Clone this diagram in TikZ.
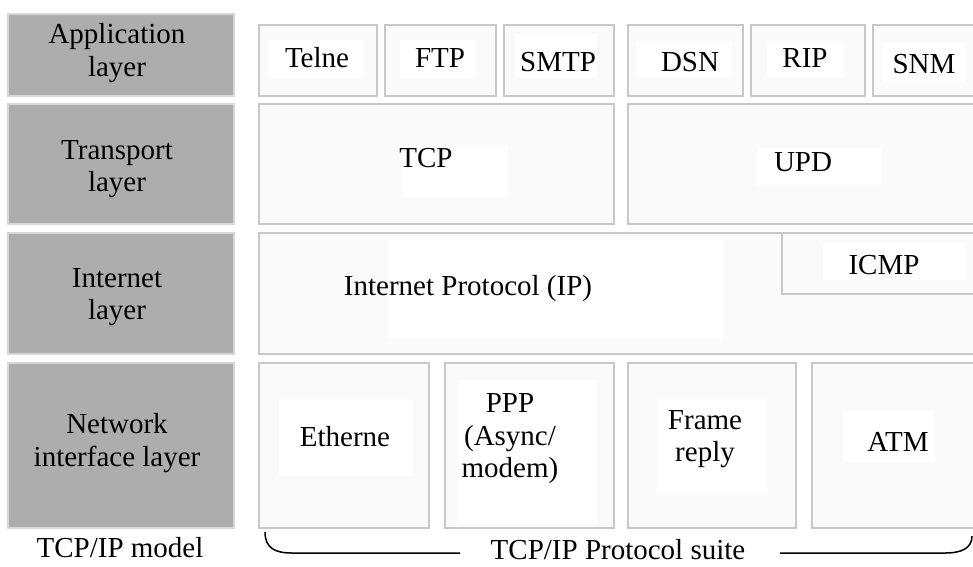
\documentclass[tikz,border=0pt]{standalone}
\usepackage{fontspec}
\setmainfont{Liberation Serif}
\definecolor{layergray}{RGB}{173,173,173}
\definecolor{layeredge}{RGB}{215,215,215}
\definecolor{boxedge}{RGB}{200,200,200}
\definecolor{boxfill}{RGB}{250,250,250}
\begin{document}
\begin{tikzpicture}[x=1pt,y=-1pt,
  layerbox/.style={draw=layeredge,fill=layergray,line width=1.5pt,anchor=north west,inner sep=0pt},
  protobox/.style={draw=boxedge,fill=boxfill,line width=1.8pt,anchor=north west,inner sep=0pt},
  txt/.style={font=\fontsize{29}{32.5}\selectfont,align=center,inner sep=0pt,text=black},
  patch/.style={fill=white}]
\useasboundingbox (0,0) rectangle (973,566);
\clip (0,0) rectangle (973,566);
\fill[white] (0,0) rectangle (973,566);
% left column
\node[layerbox,minimum width=226,minimum height=82] (appL) at (7,13) {};
\node[layerbox,minimum width=226,minimum height=120] (trL) at (7,103) {};
\node[layerbox,minimum width=226,minimum height=121] (inL) at (7,232) {};
\node[layerbox,minimum width=226,minimum height=165] (netL) at (7,362) {};
\node[txt] (appT) at (117,53) {Application\\layer};
\node[txt] (trT) at (117,169) {Transport\\layer};
\node[txt] (inT) at (117,297) {Internet\\layer};
\node[txt] (netT) at (117,443) {Network\\interface layer};
% application row
\node[protobox,minimum width=118,minimum height=71] (telne) at (258,24) {};
\node[protobox,minimum width=111,minimum height=71] (ftp) at (384,24) {};
\node[protobox,minimum width=110,minimum height=71] (smtp) at (503,24) {};
\node[protobox,minimum width=115,minimum height=71] (dsn) at (627,24) {};
\node[protobox,minimum width=114,minimum height=71] (rip) at (750,24) {};
\node[protobox,minimum width=120,minimum height=71] (snm) at (872,24) {};
% transport row
\node[protobox,minimum width=355,minimum height=120] (tcp) at (258,103) {};
\node[protobox,minimum width=360,minimum height=120] (upd) at (627,103) {};
% internet row
\node[protobox,minimum width=730,minimum height=121] (ip) at (258,232) {};
\node[protobox,minimum width=210,minimum height=61] (icmp) at (781,232) {};
% network row
\node[protobox,minimum width=170,minimum height=165] (eth) at (258,362) {};
\node[protobox,minimum width=169,minimum height=165] (ppp) at (444,362) {};
\node[protobox,minimum width=168,minimum height=165] (frame) at (627,362) {};
\node[protobox,minimum width=175,minimum height=165] (atm) at (811,362) {};
% white text backgrounds
\fill[patch] (269,40) rectangle (363,78);
\fill[patch] (400,40) rectangle (476,78);
\fill[patch] (515,33) rectangle (597,78);
\fill[patch] (636,41) rectangle (732,77);
\fill[patch] (767,41) rectangle (843,77);
\fill[patch] (882,43) rectangle (966,82);
\fill[patch] (402,145) rectangle (508,197);
\fill[patch] (757,148) rectangle (882,185);
\fill[patch] (388,240) rectangle (723,339);
\fill[patch] (823,243) rectangle (966,280);
\fill[patch] (279,399) rectangle (413,476);
\fill[patch] (458,380) rectangle (597,525);
\fill[patch] (657,399) rectangle (767,495);
\fill[patch] (843,411) rectangle (935,462);
% labels
\node[txt] (telneT) at (317,58) {Telne};
\node[txt] (ftpT) at (440,58) {FTP};
\node[txt] (smtpT) at (558,62) {SMTP};
\node[txt] (dsnT) at (690,62) {DSN};
\node[txt] (ripT) at (805,58) {RIP};
\node[txt] (snmT) at (924,64) {SNM};
\node[txt] (tcpT) at (426,158) {TCP};
\node[txt] (updT) at (803,162) {UPD};
\node[txt] (ipT) at (468,289) {Internet Protocol (IP)};
\node[txt] (icmpT) at (884,265) {ICMP};
\node[txt] (ethT) at (345,437) {Etherne};
\node[txt] (pppT) at (510,439) {PPP\\(Async/\\modem)};
\node[txt] (frameT) at (705,439) {Frame\\reply};
\node[txt] (atmT) at (898,442) {ATM};
\node[txt,anchor=base] (modelT) at (120,557) {TCP/IP model};
\node[txt,anchor=base] (suiteT) at (618,559) {TCP/IP Protocol suite};
% brace
\coordinate (bl) at (265,532);
\coordinate (bl2) at (460,553);
\coordinate (br) at (972,536);
\coordinate (br2) at (780,553);
\draw[line width=1.5pt] (bl) .. controls (265,548) and (275,553) .. (292,553) -- (bl2);
\draw[line width=1.5pt] (br2) -- (945,553) .. controls (962,553) and (972,548) .. (br);
\end{tikzpicture}
\end{document}
